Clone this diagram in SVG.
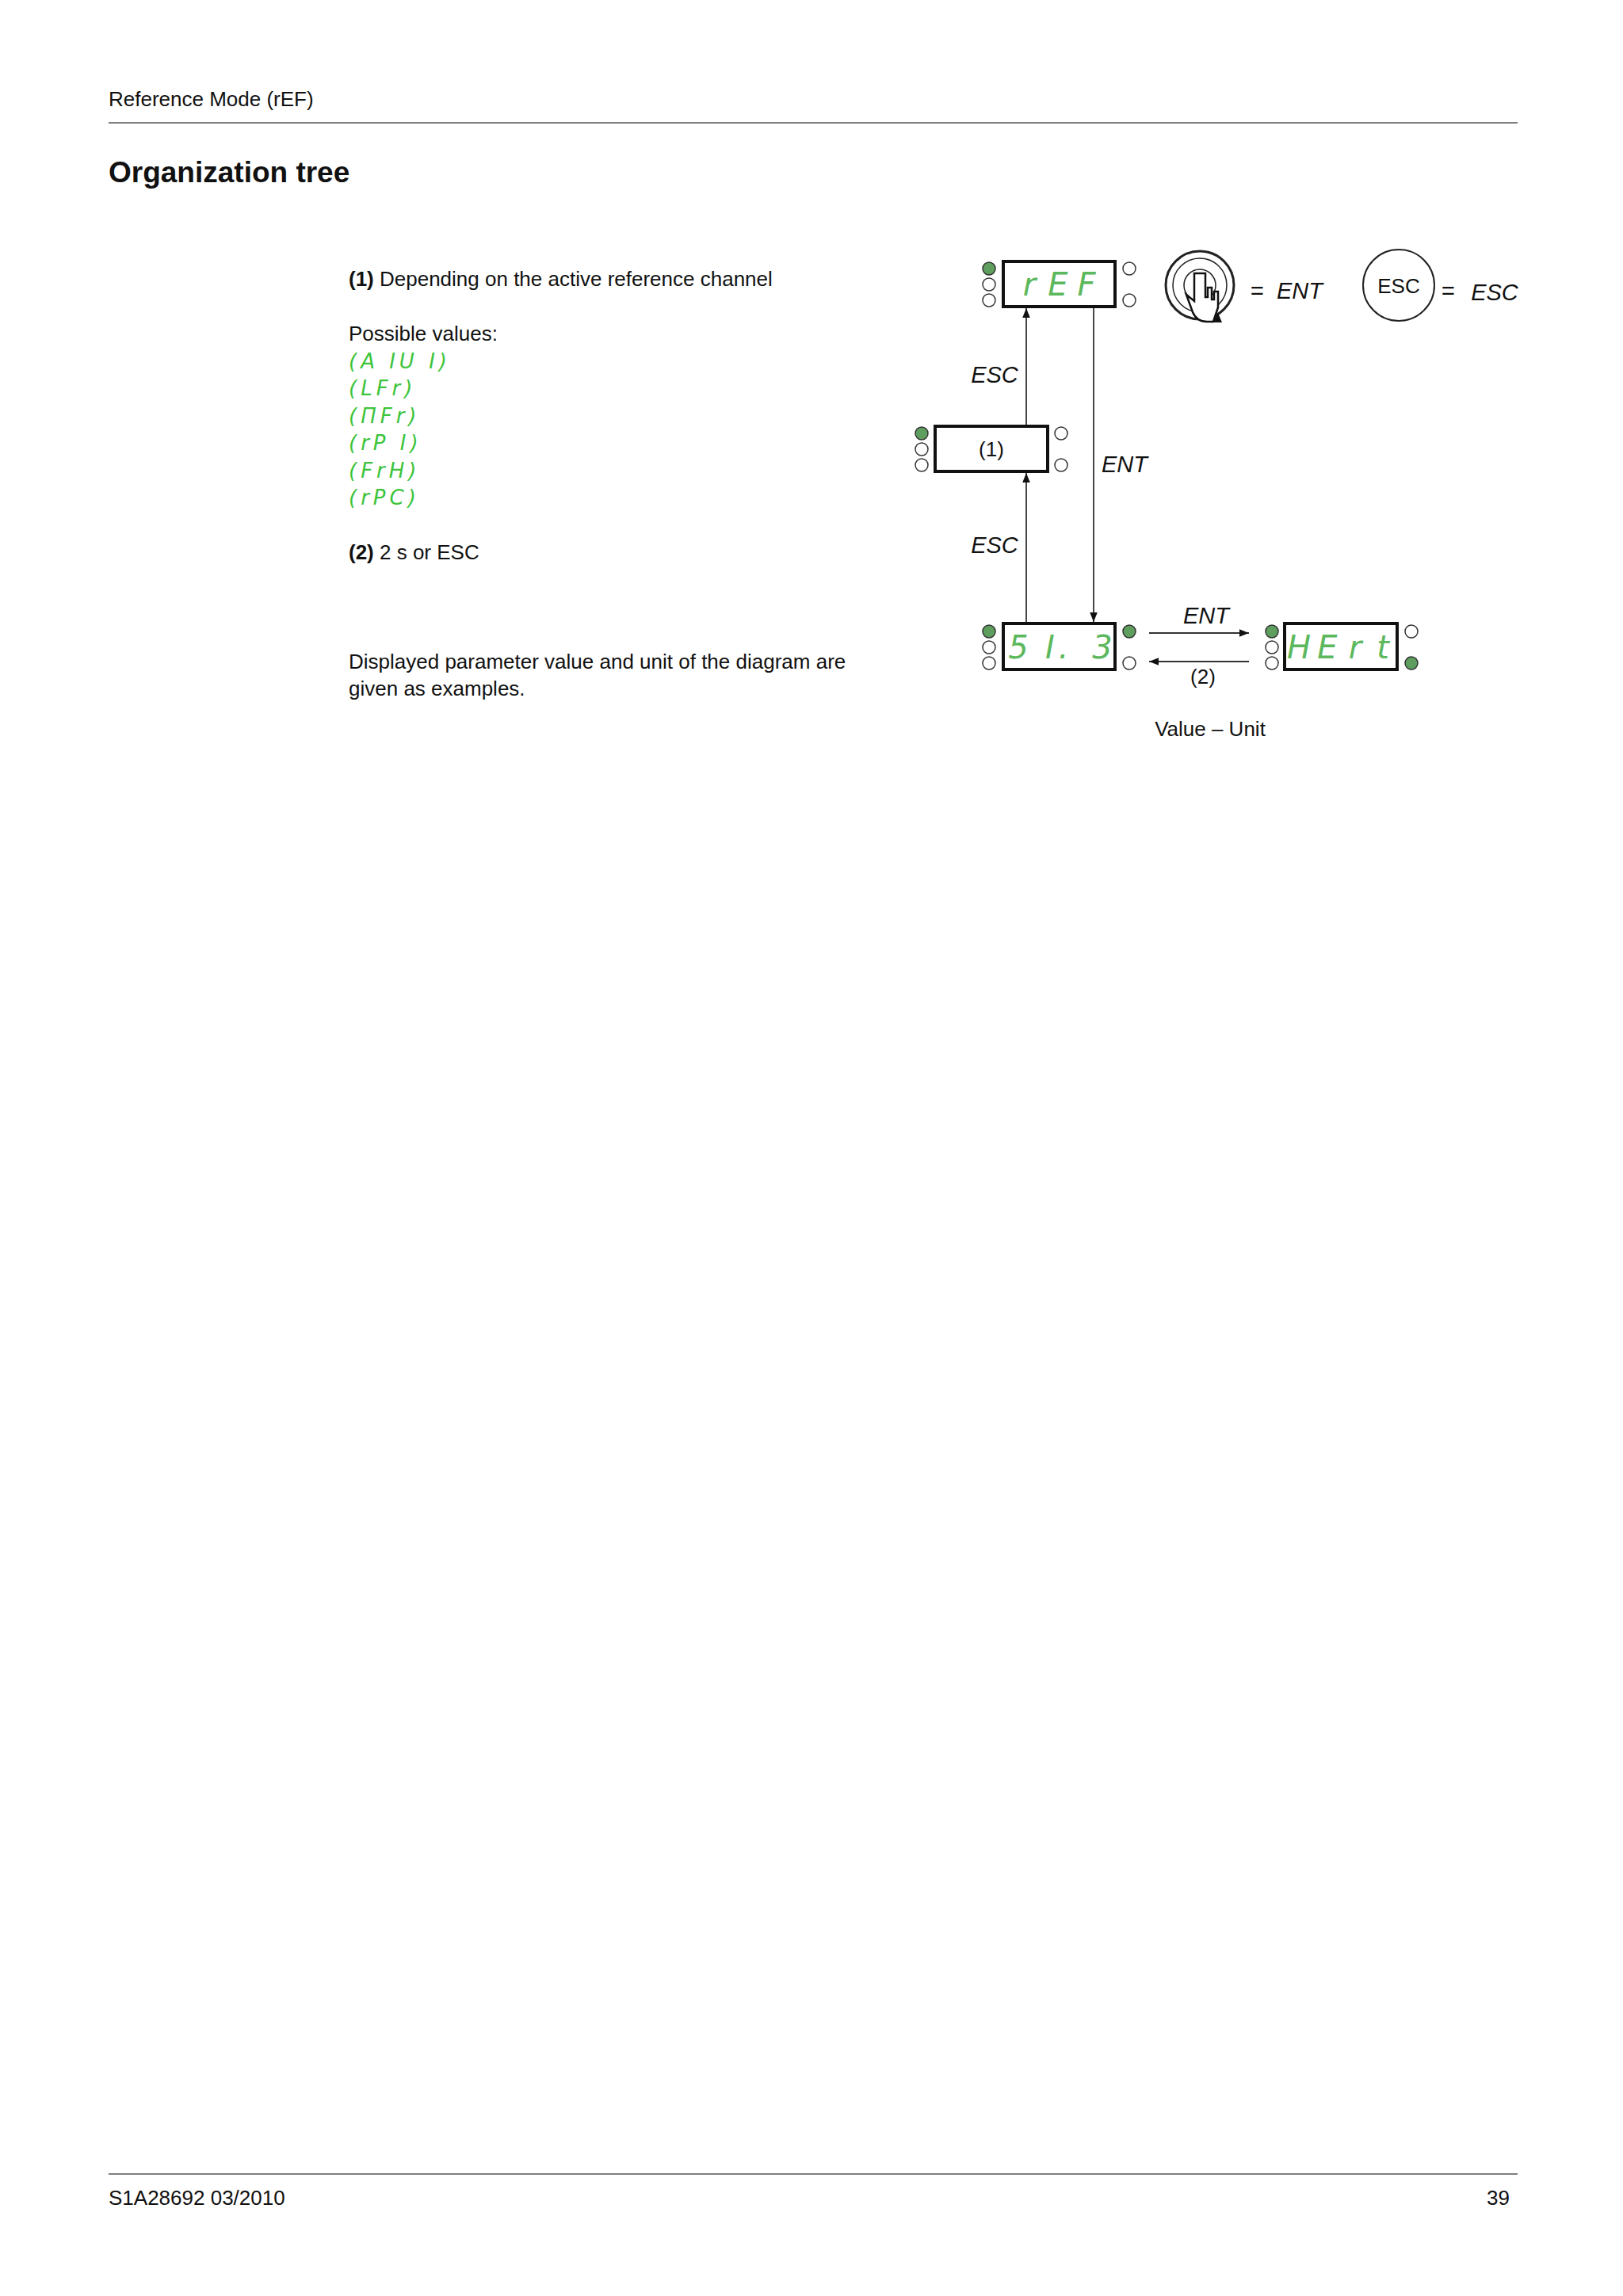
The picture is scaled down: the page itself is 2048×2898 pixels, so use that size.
<svg xmlns="http://www.w3.org/2000/svg" width="2048" height="2898" viewBox="0 0 2048 2898">
<style>
text{font-family:"Liberation Sans",Arial,sans-serif;fill:#111}
.b{font-size:26px}
.i{font-size:29px;font-style:italic}
.seg{font-family:"DejaVu Sans",sans-serif;font-style:italic;fill:#5cb85c;font-size:40px;text-anchor:middle}
.g{font-family:"DejaVu Sans",sans-serif;font-style:italic;fill:#3cc43c;font-size:26px;letter-spacing:5px}
.box{fill:#fff;stroke:#111;stroke-width:4}
.on{fill:#5e9e5e;stroke:#333;stroke-width:1.5}
.off{fill:#fff;stroke:#333;stroke-width:1.5}
.ln{stroke:#333;stroke-width:1.8;fill:none}
</style>
<defs><marker id="ah" viewBox="0 0 10 10" refX="10" refY="5" markerWidth="14" markerHeight="12" markerUnits="userSpaceOnUse" orient="auto"><path d="M0,1 L10,5 L0,9z" fill="#111"/></marker></defs>
<rect width="2048" height="2898" fill="#fff"/>
<text x="137" y="134" class="b">Reference Mode (rEF)</text>
<line x1="137" y1="155" x2="1915" y2="155" stroke="#555" stroke-width="1.5"/>
<text x="137" y="230" style="font-size:37px;font-weight:bold">Organization tree</text>
<text x="440" y="361" class="b"><tspan font-weight="bold">(1)</tspan> Depending on the active reference channel</text>
<text x="440" y="430" class="b">Possible values:</text>
<text x="440" y="465" class="g">(A IU I)</text>
<text x="440" y="499" class="g">(LFr)</text>
<text x="440" y="534" class="g">(ΠFr)</text>
<text x="440" y="568" class="g">(rP I)</text>
<text x="440" y="603" class="g">(FrH)</text>
<text x="440" y="637" class="g">(rPC)</text>
<text x="440" y="706" class="b"><tspan font-weight="bold">(2)</tspan> 2 s or ESC</text>
<text x="440" y="844" class="b">Displayed parameter value and unit of the diagram are</text>
<text x="440" y="878" class="b">given as examples.</text>
<g id="connectors">
<line class="ln" x1="1295" y1="787" x2="1295" y2="597" marker-end="url(#ah)"/>
<line class="ln" x1="1295" y1="538" x2="1295" y2="389" marker-end="url(#ah)"/>
<line class="ln" x1="1380" y1="387" x2="1380" y2="785" marker-end="url(#ah)"/>
<line class="ln" x1="1450" y1="799" x2="1576" y2="799" marker-end="url(#ah)"/>
<line class="ln" x1="1576" y1="835" x2="1450" y2="835" marker-end="url(#ah)"/>
<text x="1255" y="483" class="i" text-anchor="middle">ESC</text>
<text x="1255" y="698" class="i" text-anchor="middle">ESC</text>
<text x="1419" y="596" class="i" text-anchor="middle">ENT</text>
<text x="1522" y="787" class="i" text-anchor="middle">ENT</text>
<text x="1518" y="863" class="b" text-anchor="middle">(2)</text>
</g>
<g id="rEF"><rect class="box" x="1266" y="330" width="141" height="57"/>
<circle class="on" cx="1248" cy="339" r="8"/><circle class="off" cx="1248" cy="359" r="8"/><circle class="off" cx="1248" cy="379" r="8"/>
<circle class="off" cx="1425" cy="339" r="8"/><circle class="off" cx="1425" cy="379" r="8"/>
<text x="1299" y="373" class="seg">r</text><text x="1335" y="373" class="seg">E</text><text x="1371" y="373" class="seg">F</text></g>
<g id="n1"><rect class="box" x="1180" y="538" width="142" height="57"/>
<circle class="on" cx="1163" cy="547" r="8"/><circle class="off" cx="1163" cy="567" r="8"/><circle class="off" cx="1163" cy="587" r="8"/>
<circle class="off" cx="1339" cy="547" r="8"/><circle class="off" cx="1339" cy="587" r="8"/>
<text x="1251" y="576" class="b" text-anchor="middle">(1)</text></g>
<g id="val"><rect class="box" x="1266" y="787" width="141" height="58"/>
<circle class="on" cx="1248" cy="797" r="8"/><circle class="off" cx="1248" cy="817" r="8"/><circle class="off" cx="1248" cy="837" r="8"/>
<circle class="on" cx="1425" cy="797" r="8"/><circle class="off" cx="1425" cy="837" r="8"/>
<text x="1285" y="831" class="seg">5</text><text x="1325" y="831" class="seg">I</text><text x="1342" y="831" class="seg">.</text><text x="1391" y="831" class="seg">3</text></g>
<g id="unit"><rect class="box" x="1621" y="787" width="142" height="58"/>
<circle class="on" cx="1605" cy="797" r="8"/><circle class="off" cx="1605" cy="817" r="8"/><circle class="off" cx="1605" cy="837" r="8"/>
<circle class="off" cx="1781" cy="797" r="8"/><circle class="on" cx="1781" cy="837" r="8"/>
<text x="1639" y="831" class="seg">H</text><text x="1675" y="831" class="seg">E</text><text x="1710" y="831" class="seg">r</text><text x="1745" y="831" class="seg">t</text></g>
<text x="1527" y="929" class="b" text-anchor="middle">Value – Unit</text>
<g id="knob"><circle cx="1514" cy="360" r="43" fill="#fff" stroke="#222" stroke-width="3"/>
<circle cx="1514" cy="360" r="34" fill="none" stroke="#222" stroke-width="1.5"/>
<circle cx="1514" cy="360" r="20" fill="#fff" stroke="#222" stroke-width="1.5"/>
<path d="M1507,345 v35 l-10,-8 l8,22 q5,12 18,12 h8 l6,-18 v-20 h-5 v10 h-3 v-15 h-5 v12 h-3 v-30 z" fill="#fff" stroke="#111" stroke-width="2.5"/>
<path d="M1537,395 l5,12 h-12 z" fill="#111"/>
<text x="1586" y="377" class="i" text-anchor="middle">=</text>
<text x="1640" y="377" class="i" text-anchor="middle">ENT</text></g>
<g id="esc"><circle cx="1765" cy="360" r="45" fill="#fff" stroke="#222" stroke-width="2"/>
<text x="1765" y="370" class="b" text-anchor="middle">ESC</text>
<text x="1827" y="377" class="i" text-anchor="middle">=</text>
<text x="1886" y="379" class="i" text-anchor="middle">ESC</text></g>
<line x1="137" y1="2744" x2="1915" y2="2744" stroke="#555" stroke-width="1.5"/>
<text x="137" y="2783" class="b">S1A28692 03/2010</text>
<text x="1905" y="2783" class="b" text-anchor="end">39</text>
</svg>
